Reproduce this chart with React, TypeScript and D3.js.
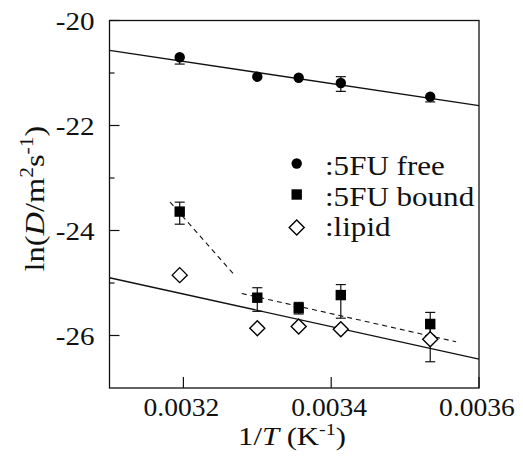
import React, { useEffect } from "react";
import * as d3 from "d3";

// 1/T values (K^-1) for the five temperatures
const invT = [0.003195, 0.0033, 0.003356, 0.003413, 0.003534];

const freeY = [-20.7, -21.07, -21.09, -21.19, -21.45];
const freeErrUp = [0, 0, 0, 0.12, 0];
const freeErrDown = [0.13, 0, 0, 0.16, 0.1];

const boundY = [-23.64, -25.28, -25.48, -25.23, -25.78];
const boundErrUp = [0.18, 0.19, 0.11, 0.2, 0.22];
const boundErrDown = [0.24, 0.26, 0.11, 0.44, 0.22];

const lipidY = [-24.85, -25.86, -25.83, -25.88, -26.07];
const lipidErrUp = [0.05, 0, 0, 0, 0.2];
const lipidErrDown = [0.05, 0, 0, 0, 0.43];

// fitted lines [x, y]
const freeFit = [[0.0031, -20.57], [0.0036, -21.62]];
const lipidFit = [[0.0031, -24.9], [0.0036, -26.45]];
const boundFitHigh = [[0.003182, -23.46], [0.003268, -24.83]];
const boundFitLow = [[0.003279, -25.2], [0.003569, -26.12]];

const xTicks = [0.0032, 0.0034, 0.0036];
const yMajor = [-20, -22, -24, -26];
const yMinor = [-21, -23, -25];

const legendItems = [":5FU free", ":5FU bound", ":lipid"];

const TXT = { fontFamily: "Liberation Serif" };
const INK = "#111";

export default function App() {
  useEffect(() => {
    document.body.style.margin = "0";
  }, []);

  const x = d3.scaleLinear().domain([0.0031, 0.0036]).range([109.5, 479]);
  const y = d3.scaleLinear().domain([-27, -20]).range([388, 20.5]);
  const line = d3
    .line<number[]>()
    .x(d => x(d[0]))
    .y(d => y(d[1]));

  const errBars = (vals: number[], up: number[], down: number[], key: string) =>
    invT.map((t, i) => {
      const cx = x(t);
      const parts = [];
      if (up[i] > 0) {
        parts.push(<line key="u" x1={cx} x2={cx} y1={y(vals[i])} y2={y(vals[i] + up[i])} />);
        parts.push(<line key="uc" x1={cx - 5} x2={cx + 5} y1={y(vals[i] + up[i])} y2={y(vals[i] + up[i])} />);
      }
      if (down[i] > 0) {
        parts.push(<line key="d" x1={cx} x2={cx} y1={y(vals[i])} y2={y(vals[i] - down[i])} />);
        parts.push(<line key="dc" x1={cx - 5} x2={cx + 5} y1={y(vals[i] - down[i])} y2={y(vals[i] - down[i])} />);
      }
      return <g key={key + i}>{parts}</g>;
    });

  const diamond = (cx: number, cy: number, r: number) =>
    `M${cx},${cy - r}L${cx + r},${cy}L${cx},${cy + r}L${cx - r},${cy}Z`;

  const legendMarkerY = [163.5, 194.5, 227.5];
  const legendTextY = [175, 205.5, 236];

  return (
    <svg width={523} height={459} style={{ display: "block", background: "#fff" }}>
      {/* frame */}
      <rect x={x(0.0031)} y={y(-20)} width={x(0.0036) - x(0.0031)} height={y(-27) - y(-20)}
        fill="none" stroke={INK} strokeWidth={1.3} />

      {/* ticks, inward */}
      <g stroke={INK} strokeWidth={1.2}>
        {yMajor.map(v => (
          <line key={"ym" + v} x1={x(0.0031)} x2={x(0.0031) + 10} y1={y(v)} y2={y(v)} />
        ))}
        {yMinor.map(v => (
          <line key={"yn" + v} x1={x(0.0031)} x2={x(0.0031) + 5} y1={y(v)} y2={y(v)} />
        ))}
        {xTicks.map(v => (
          <line key={"xt" + v} x1={x(v)} x2={x(v)} y1={y(-27)} y2={y(-27) - 11} />
        ))}
      </g>

      {/* tick labels */}
      {yMajor.map(v => (
        <text key={"yl" + v} style={TXT} fontSize={26} fill={INK} textAnchor="end" dy="0.35em"
          transform={`translate(${x(0.0031) - 15},${y(v)}) scale(1.12,1)`}>
          {String(v)}
        </text>
      ))}
      {xTicks.map(v => (
        <text key={"xl" + v} style={TXT} fontSize={26} fill={INK} textAnchor="middle"
          transform={`translate(${x(v) - 2},416) scale(1.06,1)`}>
          {String(v)}
        </text>
      ))}

      {/* axis titles */}
      <text style={TXT} fontSize={26} fill={INK} textAnchor="middle" transform="translate(292,445) scale(1.18,1)">
        1/<tspan fontStyle="italic">T</tspan> (K<tspan dy={-10} fontSize={17}>-1</tspan><tspan dy={10}>)</tspan>
      </text>
      <text style={TXT} fontSize={27} fill={INK} textAnchor="middle" transform="translate(44,198.5) rotate(-90) scale(1.2,1)">
        ln(<tspan fontStyle="italic">D</tspan>/m<tspan dy={-11} fontSize={18}>2</tspan>
        <tspan dy={11}>s</tspan><tspan dy={-11} fontSize={18}>-1</tspan><tspan dy={11}>)</tspan>
      </text>

      {/* fit lines */}
      <g fill="none" stroke={INK} strokeWidth={1.3}>
        <path d={line(freeFit as any) || ""} />
        <path d={line(lipidFit as any) || ""} />
        <path d={line(boundFitHigh as any) || ""} strokeDasharray="5,4" strokeWidth={1.1} />
        <path d={line(boundFitLow as any) || ""} strokeDasharray="5,4" strokeWidth={1.1} />
      </g>

      {/* error bars */}
      <g stroke={INK} strokeWidth={1.2}>
        {errBars(freeY, freeErrUp, freeErrDown, "f")}
        {errBars(boundY, boundErrUp, boundErrDown, "b")}
        {errBars(lipidY, lipidErrUp, lipidErrDown, "l")}
      </g>

      {/* markers */}
      {invT.map((t, i) => (
        <circle key={"fc" + i} cx={x(t)} cy={y(freeY[i])} r={5.2} fill="#000" />
      ))}
      {invT.map((t, i) => (
        <rect key={"bs" + i} x={x(t) - 5.2} y={y(boundY[i]) - 5.2} width={10.4} height={10.4} fill="#000" />
      ))}
      {invT.map((t, i) => (
        <path key={"ld" + i} d={diamond(x(t), y(lipidY[i]), 7.5)} fill="#fff" stroke="#000" strokeWidth={1.4} />
      ))}

      {/* legend */}
      <circle cx={296.7} cy={legendMarkerY[0]} r={5.2} fill="#000" />
      <rect x={291.5} y={legendMarkerY[1] - 5.2} width={10.4} height={10.4} fill="#000" />
      <path d={diamond(296.7, legendMarkerY[2], 7.5)} fill="#fff" stroke="#000" strokeWidth={1.4} />
      {legendItems.map((s, i) => (
        <text key={s} style={TXT} fontSize={27} fill={INK} transform={`translate(325,${legendTextY[i]}) scale(1.15,1)`}>
          {s}
        </text>
      ))}
    </svg>
  );
}
